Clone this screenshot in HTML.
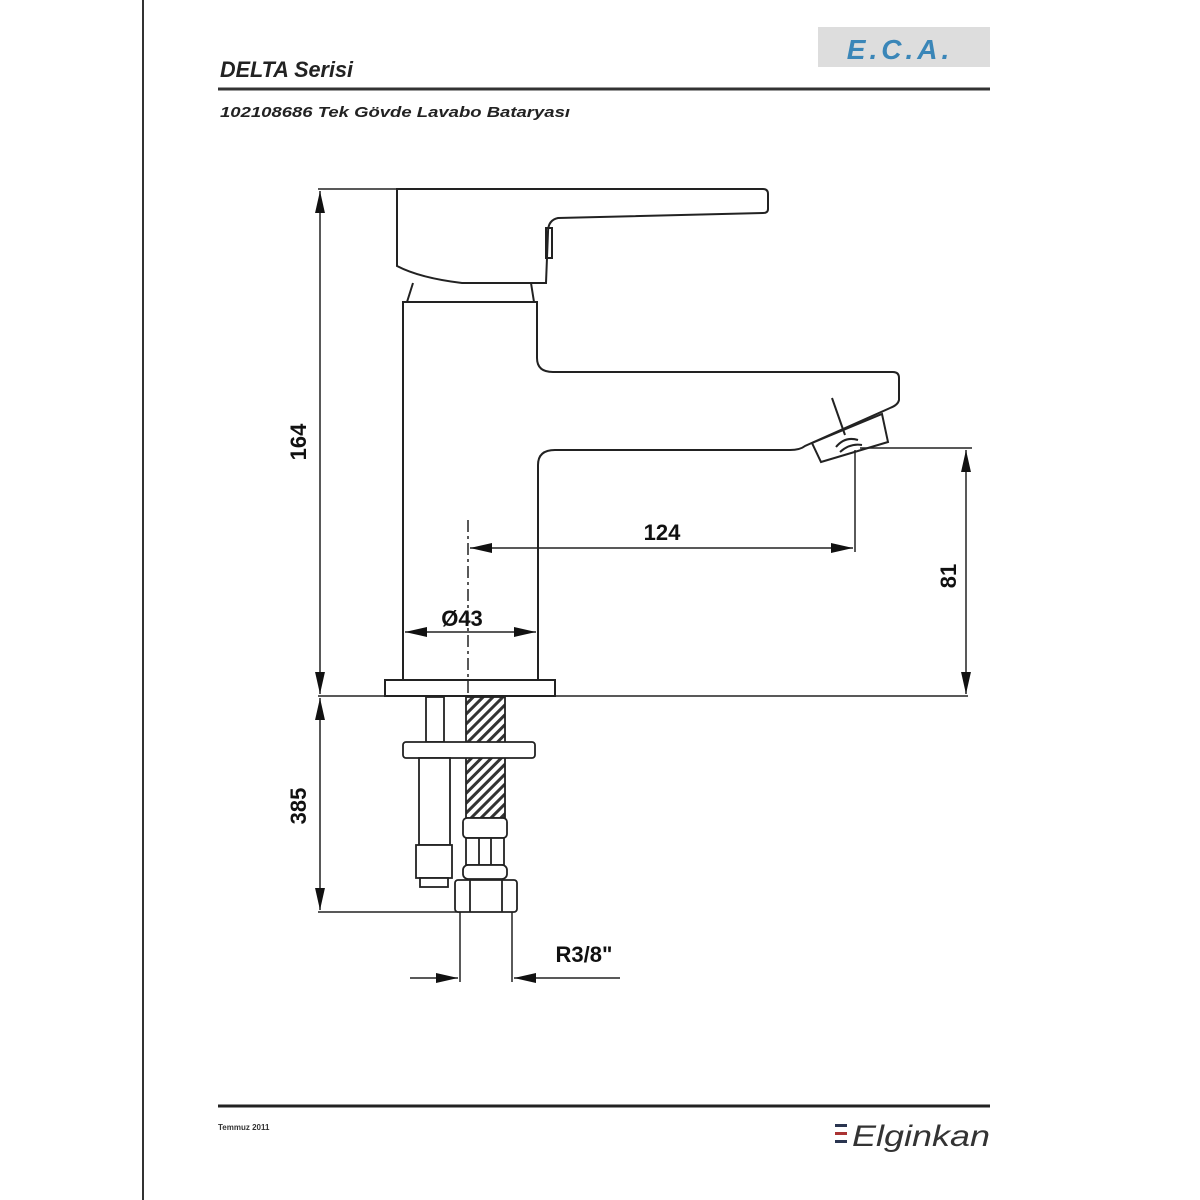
<!DOCTYPE html>
<html><head><meta charset="utf-8"><style>
html,body{margin:0;padding:0;background:#fff;}
svg{display:block;}
</style></head><body>
<svg width="1200" height="1200" viewBox="0 0 1200 1200" xmlns="http://www.w3.org/2000/svg" font-family="Liberation Sans, sans-serif">
<defs>
<pattern id="h" width="7" height="7" patternUnits="userSpaceOnUse" patternTransform="rotate(45)">
<rect width="7" height="7" fill="#fff"/><rect width="3" height="7" fill="#333"/></pattern>
<marker id="a" viewBox="0 0 20 10" refX="20" refY="5" markerWidth="22" markerHeight="11" markerUnits="userSpaceOnUse" orient="auto-start-reverse"><path d="M0,0.5 L20,5 L0,9.5 z" fill="#111"/></marker>
</defs>
<line x1="143" y1="0" x2="143" y2="1200" stroke="#333" stroke-width="2"/>
<!-- header -->
<rect x="818" y="27" width="172" height="40" fill="#ddd"/>
<text x="900" y="59" font-size="28" font-weight="bold" font-style="italic" fill="#3a86b8" text-anchor="middle" letter-spacing="4">E.C.A.</text>
<text x="220" y="77" font-size="22" font-weight="bold" font-style="italic" fill="#222" textLength="133" lengthAdjust="spacingAndGlyphs">DELTA Serisi</text>
<line x1="218" y1="89" x2="990" y2="89" stroke="#333" stroke-width="3"/>
<text x="220" y="117" font-size="15" font-weight="bold" font-style="italic" fill="#222" textLength="350" lengthAdjust="spacingAndGlyphs">102108686 Tek Gövde Lavabo Bataryası</text>
<!-- faucet -->
<g fill="none" stroke="#222" stroke-width="2">
<path d="M397,189 L763,189 Q768,189 768,194 L768,209 Q768,213 763,213 L558,218 Q548,220 548,232 L546,283 L462,283 Q420,278 397,266 Z"/>
<rect x="546" y="228" width="6" height="30"/>
<path d="M413,283 L407,302 M531,283 L534,302"/>
<path d="M403,680 L403,302 L537,302 L537,358 Q537,372 553,372 L893,372 Q899,372 899,378 L899,400 Q898,405 890,408 L805,446 Q800,450 790,450"/>
<path d="M538,680 L538,465 Q538,450 555,450 L790,450"/>
<polygon points="812,443 882,414 888,442 821,462"/>
<path d="M836,447 Q845,436 858,440 M840,452 Q850,443 862,445"/>
<line x1="832" y1="398" x2="845" y2="435"/>
<rect x="385" y="680" width="170" height="16"/>
</g>
<!-- lines -->
<g stroke="#222" stroke-width="1.5" fill="none">
<line x1="318" y1="696" x2="968" y2="696"/>
<line x1="318" y1="189" x2="397" y2="189"/>
<line x1="318" y1="912" x2="460" y2="912"/>
<line x1="860" y1="448" x2="972" y2="448"/>
<line x1="855" y1="450" x2="855" y2="552"/>
<line x1="468" y1="520" x2="468" y2="912" stroke-dasharray="12,4,3,4"/>
<line x1="320" y1="191" x2="320" y2="694" marker-start="url(#a)" marker-end="url(#a)"/>
<line x1="320" y1="698" x2="320" y2="910" marker-start="url(#a)" marker-end="url(#a)"/>
<line x1="966" y1="450" x2="966" y2="694" marker-start="url(#a)" marker-end="url(#a)"/>
<line x1="470" y1="548" x2="853" y2="548" marker-start="url(#a)" marker-end="url(#a)"/>
<line x1="405" y1="632" x2="536" y2="632" marker-start="url(#a)" marker-end="url(#a)"/>
<line x1="460" y1="912" x2="460" y2="982"/>
<line x1="512" y1="912" x2="512" y2="982"/>
<line x1="410" y1="978" x2="458" y2="978" marker-end="url(#a)"/>
<line x1="620" y1="978" x2="514" y2="978" marker-end="url(#a)"/>
</g>
<g font-weight="bold" font-size="22" fill="#111" text-anchor="middle">
<text x="662" y="540">124</text>
<text x="462" y="626">Ø43</text>
<text x="584" y="962">R3/8"</text>
<text transform="translate(306 442) rotate(-90)">164</text>
<text transform="translate(306 806) rotate(-90)">385</text>
<text transform="translate(956 576) rotate(-90)">81</text>
</g>
<!-- lower parts -->
<g stroke="#222" stroke-width="1.8" fill="#fff">
<rect x="426" y="697" width="18" height="45"/>
<rect x="466" y="697" width="39" height="121" fill="url(#h)"/>
<rect x="403" y="742" width="132" height="16" rx="3"/>
<rect x="419" y="758" width="31" height="87"/>
<rect x="416" y="845" width="36" height="33"/>
<rect x="420" y="878" width="28" height="9"/>
<rect x="463" y="818" width="44" height="20" rx="4"/>
<rect x="466" y="838" width="38" height="27"/>
<line x1="479" y1="838" x2="479" y2="865"/><line x1="491" y1="838" x2="491" y2="865"/>
<rect x="463" y="865" width="44" height="14" rx="5"/>
<rect x="455" y="880" width="62" height="32" rx="3"/>
<line x1="470" y1="880" x2="470" y2="912"/><line x1="502" y1="880" x2="502" y2="912"/>
</g>
<!-- footer -->
<line x1="218" y1="1106" x2="990" y2="1106" stroke="#222" stroke-width="3"/>
<text x="218" y="1130" font-size="8" font-weight="bold" fill="#333">Temmuz 2011</text>
<rect x="835" y="1124" width="12" height="3" fill="#2a3550"/>
<rect x="835" y="1132" width="12" height="3" fill="#a33"/>
<rect x="835" y="1140" width="12" height="3" fill="#2a3550"/>
<text x="852" y="1146" font-size="30" font-style="italic" fill="#333" textLength="138" lengthAdjust="spacingAndGlyphs">Elginkan</text>
</svg>
</body></html>
